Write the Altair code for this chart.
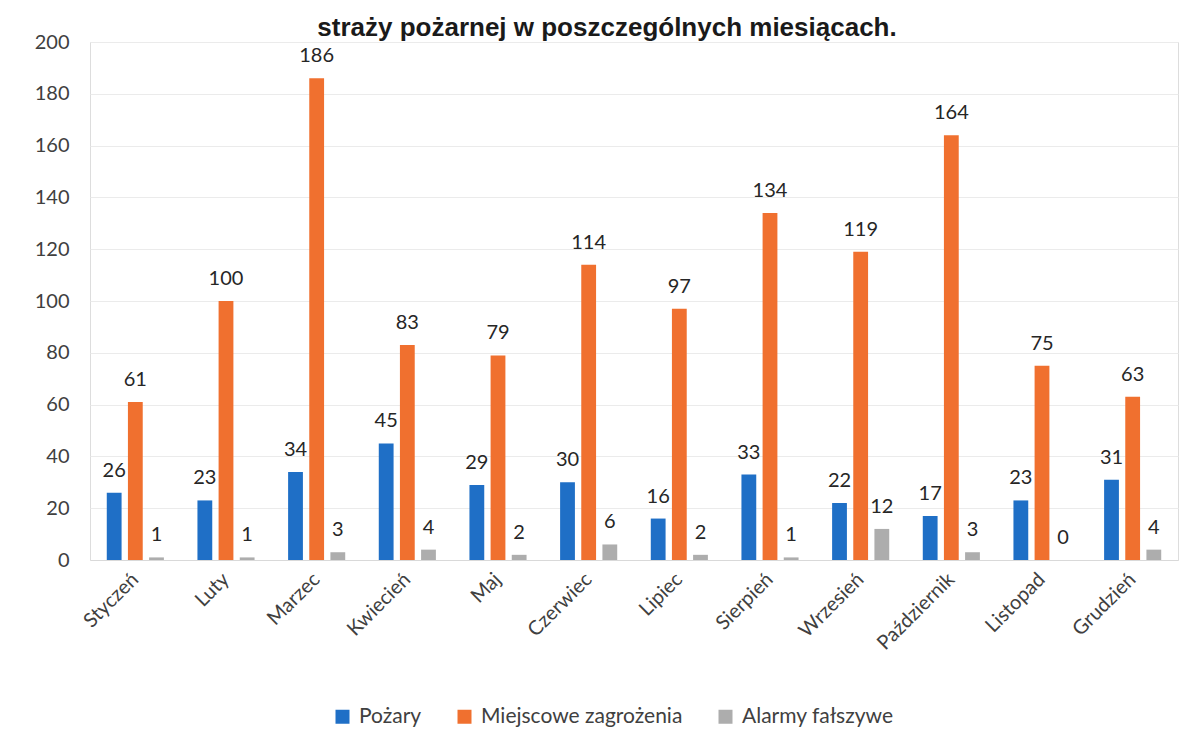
import altair as alt
import pandas as pd

months = ["Styczeń", "Luty", "Marzec", "Kwiecień", "Maj", "Czerwiec", "Lipiec",
          "Sierpień", "Wrzesień", "Październik", "Listopad", "Grudzień"]
series = ["Pożary", "Miejscowe zagrożenia", "Alarmy fałszywe"]
pozary = [26, 23, 34, 45, 29, 30, 16, 33, 22, 17, 23, 31]
miejscowe = [61, 100, 186, 83, 79, 114, 97, 134, 119, 164, 75, 63]
alarmy = [1, 1, 3, 4, 2, 6, 2, 1, 12, 3, 0, 4]
colors = ["#1F6FC6", "#F0702F", "#ADADAD"]
y_ticks = [0, 20, 40, 60, 80, 100, 120, 140, 160, 180, 200]
title_text = "straży pożarnej w poszczególnych miesiącach."

rows = []
for vals, s in zip([pozary, miejscowe, alarmy], series):
    for m, v in zip(months, vals):
        rows.append({"Miesiąc": m, "Seria": s, "Wartość": v})
df = pd.DataFrame(rows)

FONT = "Lato"

x = alt.X("Miesiąc:N", sort=months, title=None,
          scale=alt.Scale(paddingInner=0.37, paddingOuter=0.185),
          axis=alt.Axis(labelAngle=-45, labelFontSize=20, labelColor="#404040",
                        labelFont=FONT, ticks=False, domainColor="#d9d9d9",
                        labelAlign="right", labelBaseline="middle",
                        labelPadding=16))
xoff = alt.XOffset("Seria:N", sort=series,
                   scale=alt.Scale(paddingInner=0.3, paddingOuter=0))
y = alt.Y("Wartość:Q", title=None,
          scale=alt.Scale(domain=[0, 200], nice=False),
          axis=alt.Axis(values=y_ticks, labelFontSize=20, labelColor="#404040",
                        labelFont=FONT, ticks=False, domain=False,
                        gridColor="#ebebeb", labelPadding=21))
color = alt.Color("Seria:N", sort=series,
                  scale=alt.Scale(domain=series, range=colors),
                  legend=alt.Legend(title=None, orient="none", direction="horizontal",
                                    legendX=242, legendY=664, symbolType="square",
                                    symbolSize=196, symbolStrokeWidth=0,
                                    labelFontSize=21, labelFont=FONT, labelLimit=0,
                                    labelColor="#404040", columnPadding=32,
                                    labelOffset=6))

base = alt.Chart(df).encode(x=x, xOffset=xoff, y=y)
bars = base.mark_bar().encode(color=color)
labels = base.mark_text(baseline="bottom", dy=-12, fontSize=20, font=FONT,
                        color="#262626").encode(text="Wartość:Q")

chart = alt.layer(bars, labels).properties(
    width=1088, height=518,
    title=alt.TitleParams(title_text, font="Liberation Sans", fontSize=26,
                          fontWeight="bold", color="#1a1a1a", anchor="middle",
                          offset=-9, dx=-27),
    autosize=alt.AutoSizeParams(type="none"),
    padding={"left": 82, "top": 34, "right": 10, "bottom": 172},
).configure_view(stroke=None).configure(background="white")

chart.save("out.html", embed_options={"renderer": "svg", "actions": False})
